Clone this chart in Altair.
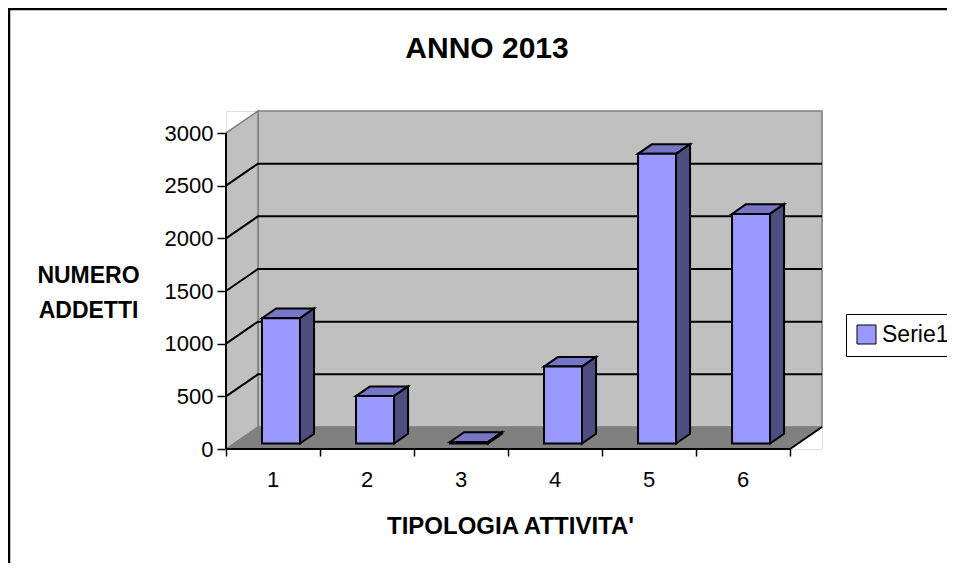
import altair as alt
import pandas as pd

# ---------------- data ----------------
categories = ["1", "2", "3", "4", "5", "6"]
values = [1190, 450, 15, 730, 2750, 2180]
y_ticks = [0, 500, 1000, 1500, 2000, 2500, 3000]
series_name = "Serie1"
title_text = "ANNO 2013"
x_title = "TIPOLOGIA ATTIVITA'"
y_title = ["NUMERO", "ADDETTI"]

# ---------------- oblique 3D projection (in data units) ----------------
N = len(categories)
YMAX = 3000
DX = 0.34      # depth shift along x (category units)
DY = 209       # depth shift along y (value units)
D0, D1 = 0.25, 0.69   # bar depth start / end (fraction of floor depth)
HW = 0.202     # half bar width (category units)

FONT = "Liberation Sans"
FRONT = "#9999FF"
TOP = "#7676C4"
SIDE = "#4D4D80"
WALL = "#C0C0C0"
FLOOR = "#808080"
EDGE = "#808080"

xs = alt.Scale(domain=[0, N + DX], nice=False, zero=False)
ys = alt.Scale(domain=[0, YMAX + DY], nice=False, zero=False)

x_axis = alt.Axis(values=list(range(N + 1)), grid=False, domain=False, labels=False,
                  tickSize=7, tickColor="black", tickWidth=1.5,
                  title=x_title, titleX=284, titleY=84, titleAlign="center",
                  titleBaseline="alphabetic", titleFontSize=24, titleFont=FONT,
                  titleFontWeight="bold", titleColor="black")
y_axis = alt.Axis(values=y_ticks, format="d", grid=False, domain=False, tickSize=9,
                  tickColor="black", tickWidth=1.5, labelFontSize=22, labelFont=FONT,
                  labelColor="black", labelPadding=4,
                  title=y_title, titleAngle=0, titleX=-138, titleY=171,
                  titleAlign="center", titleBaseline="alphabetic", titleFontSize=23,
                  titleFont=FONT, titleFontWeight="bold", titleLineHeight=35,
                  titleColor="black")


def X(f):
    return alt.X(f, scale=xs, axis=x_axis, stack=None)


def Y(f):
    return alt.Y(f, scale=ys, axis=y_axis, stack=None)


# back wall
back_df = pd.DataFrame({"x": [DX], "x2": [N + DX], "y": [DY], "y2": [YMAX + DY]})
back = alt.Chart(back_df).mark_rect(fill=WALL, stroke=EDGE, strokeWidth=1.5).encode(
    x=X("x:Q"), x2="x2:Q", y=Y("y:Q"), y2="y2:Q")

# left wall
lw_df = pd.DataFrame({"x": [0, DX], "y": [0, DY], "y2": [YMAX, YMAX + DY]})
left_wall = alt.Chart(lw_df).mark_area(fill=WALL, stroke=EDGE, strokeWidth=1.5).encode(
    x=X("x:Q"), y=Y("y:Q"), y2="y2:Q")

# floor
fl_df = pd.DataFrame({"y": [0, DY], "x": [0, DX], "x2": [N, N + DX]})
floor = alt.Chart(fl_df).mark_area(orient="horizontal", fill=FLOOR, stroke=EDGE,
                                   strokeWidth=1).encode(
    y=Y("y:Q"), x=X("x:Q"), x2="x2:Q")

# floor right edge
fr_df = pd.DataFrame({"x": [N, N + DX], "y": [0, DY]})
floor_edge = alt.Chart(fr_df).mark_line(color="black", strokeWidth=2).encode(
    x=X("x:Q"), y=Y("y:Q"))

# gridlines (left wall + back wall)
g_rows = []
for v in y_ticks[1:-1]:
    g_rows += [{"v": v, "k": 0, "x": 0, "y": v},
               {"v": v, "k": 1, "x": DX, "y": v + DY},
               {"v": v, "k": 2, "x": N + DX, "y": v + DY}]
grid = alt.Chart(pd.DataFrame(g_rows)).mark_line(color="black", strokeWidth=2).encode(
    x=X("x:Q"), y=Y("y:Q"), detail="v:N", order="k:Q")

# axis lines
ydom = alt.Chart(pd.DataFrame({"x": [0], "y": [0], "y2": [YMAX]})).mark_rule(
    color="black", strokeWidth=2).encode(x=X("x:Q"), y=Y("y:Q"), y2="y2:Q")
xdom = alt.Chart(pd.DataFrame({"x": [0], "x2": [N], "y": [0]})).mark_rule(
    color="black", strokeWidth=2).encode(x=X("x:Q"), x2="x2:Q", y=Y("y:Q"))

# bars
front_rows, side_rows, top_rows = [], [], []
for i, (c, v) in enumerate(zip(categories, values)):
    cx = i + 0.5
    front_rows.append({"cat": c, "series": series_name,
                       "x": cx - HW + DX * D0, "x2": cx + HW + DX * D0,
                       "y": DY * D0, "y2": v + DY * D0})
    for d in (D0, D1):
        side_rows.append({"cat": c, "x": cx + HW + DX * d, "y": DY * d, "y2": v + DY * d})
        top_rows.append({"cat": c, "y": v + DY * d, "x": cx - HW + DX * d,
                         "x2": cx + HW + DX * d})

tops = alt.Chart(pd.DataFrame(top_rows)).mark_area(
    orient="horizontal", fill=TOP, stroke="black", strokeWidth=2).encode(
    y=Y("y:Q"), x=X("x:Q"), x2="x2:Q", detail="cat:N")
sides = alt.Chart(pd.DataFrame(side_rows)).mark_area(
    fill=SIDE, stroke="black", strokeWidth=2).encode(
    x=X("x:Q"), y=Y("y:Q"), y2="y2:Q", detail="cat:N")
fronts = alt.Chart(pd.DataFrame(front_rows)).mark_rect(
    stroke="black", strokeWidth=2).encode(
    x=X("x:Q"), x2="x2:Q", y=Y("y:Q"), y2="y2:Q",
    color=alt.Color("series:N",
                    scale=alt.Scale(domain=[series_name], range=[FRONT]),
                    legend=alt.Legend(orient="none", legendX=620, legendY=203, title=None,
                                      symbolType="square", symbolSize=361,
                                      symbolStrokeColor="black", symbolStrokeWidth=1,
                                      symbolFillColor=FRONT,
                                      labelFontSize=23, labelFont=FONT, labelColor="black",
                                      labelOffset=4, strokeColor="black", padding=9)))

# category labels
lab_df = pd.DataFrame({"x": [i + 0.5 for i in range(N)], "y": [0] * N, "label": categories})
labels = alt.Chart(lab_df).mark_text(fontSize=22, font=FONT, color="black", dy=38,
                                     baseline="alphabetic").encode(
    x=X("x:Q"), y=Y("y:Q"), text="label:N")

# chart title (as text, so the frame does not push it away)
title = alt.Chart(pd.DataFrame({"t": [title_text]})).mark_text(
    fontSize=30, font=FONT, fontWeight="bold", color="black", baseline="alphabetic",
    align="center").encode(x=alt.value(261), y=alt.value(-53), text="t:N")

# outer frame
frame = alt.Chart(pd.DataFrame({"a": [0]})).mark_rect(
    fill=None, stroke="black", strokeWidth=2.5).encode(
    x=alt.value(-217), x2=alt.value(800), y=alt.value(-102), y2=alt.value(600))

chart = alt.layer(back, left_wall, floor, grid, floor_edge, tops, sides, fronts,
                  ydom, xdom, labels, title, frame).properties(
    width=596, height=338,
    padding={"left": 218, "top": 103, "right": 125, "bottom": 114},
    autosize=alt.AutoSizeParams(type="none"),
).configure_view(stroke=None).configure(background="white")

chart.save("out.html", embed_options={"renderer": "svg", "actions": False})
